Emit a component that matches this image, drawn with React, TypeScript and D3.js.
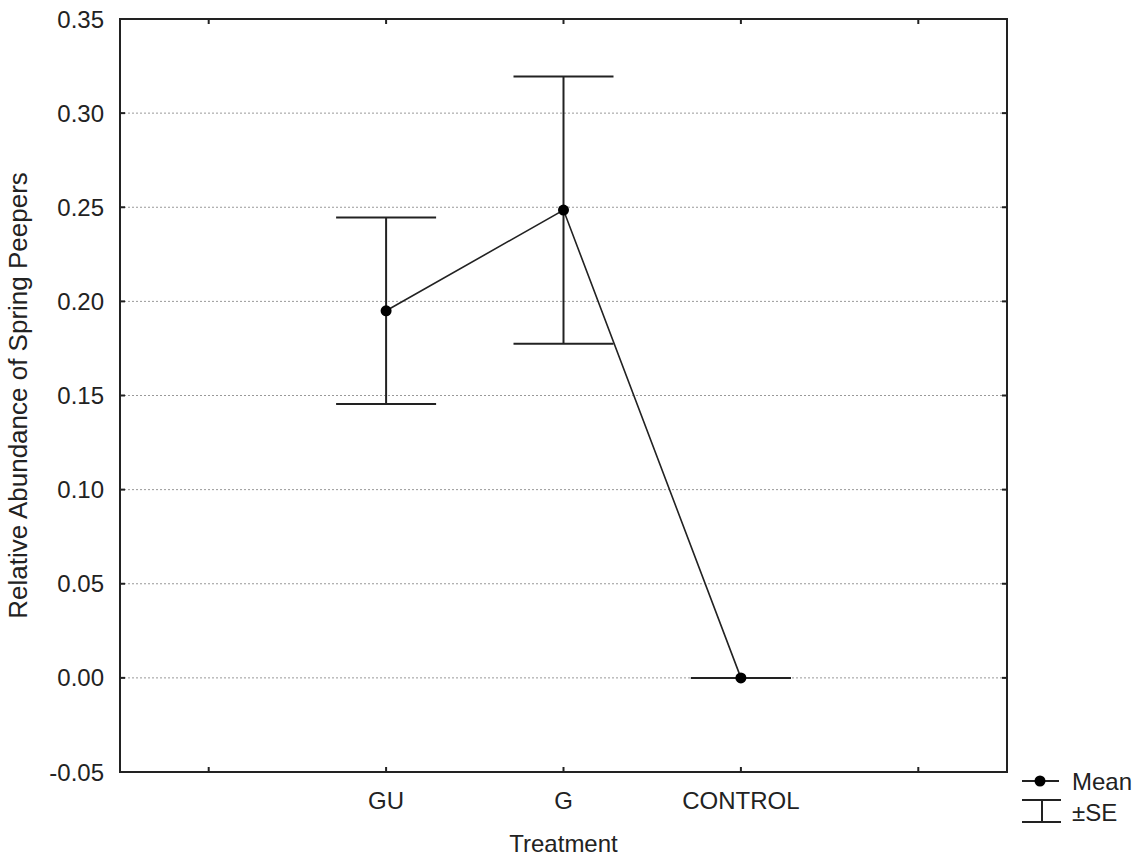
import React from "react";
import * as d3 from "d3";

const categories = ["GU", "G", "CONTROL"];
const categoryPositions = [2, 3, 4];
const means = [0.195, 0.2485, 0.0];
const upperSE = [0.2445, 0.3195, 0.0];
const lowerSE = [0.1455, 0.1775, 0.0];
const yTicks = [-0.05, 0.0, 0.05, 0.1, 0.15, 0.2, 0.25, 0.3, 0.35];
const xTicks = [1, 2, 3, 4, 5];

const W = 1137;
const H = 855;
const left = 120;
const right = 1007;
const top = 19;
const bottom = 772;
const font = "Arial, 'Liberation Sans', sans-serif";
const ink = "#222";
const fs = 24;

// hyphen-minus formatting for tick labels
const fmt = (v: number) => d3.format(".2f")(v).replace("\u2212", "-");

export default function App() {
  const x = d3.scaleLinear().domain([0.5, 5.5]).range([left, right]);
  const y = d3.scaleLinear().domain([-0.05, 0.35]).range([bottom, top]);
  const line = d3
    .line<number>()
    .x((_, i) => x(categoryPositions[i]))
    .y((d) => y(d));
  const capHalf = 50;
  const tickLen = 5;

  return (
    <svg
      width={W}
      height={H}
      style={{ position: "absolute", left: 0, top: 0, background: "#fff" }}
    >
      {/* dotted grid */}
      {yTicks
        .filter((t) => t > -0.05 + 1e-9 && t < 0.35 - 1e-9)
        .map((t) => (
          <line
            key={"g" + t}
            x1={left}
            x2={right}
            y1={y(t)}
            y2={y(t)}
            stroke="#999"
            strokeWidth={1}
            strokeDasharray="2,2"
          />
        ))}

      {/* frame */}
      <rect
        x={left}
        y={top}
        width={right - left}
        height={bottom - top}
        fill="none"
        stroke={ink}
        strokeWidth={2}
      />

      {/* inward ticks */}
      {yTicks.map((t) => (
        <g key={"yt" + t}>
          <line x1={left} x2={left + tickLen} y1={y(t)} y2={y(t)} stroke={ink} strokeWidth={2} />
          <line x1={right - tickLen} x2={right} y1={y(t)} y2={y(t)} stroke={ink} strokeWidth={2} />
          <text
            x={104}
            y={y(t)}
            textAnchor="end"
            dominantBaseline="central"
            fontFamily={font}
            fontSize={fs}
            fill={ink}
          >
            {fmt(t)}
          </text>
        </g>
      ))}
      {xTicks.map((t) => (
        <g key={"xt" + t}>
          <line x1={x(t)} x2={x(t)} y1={bottom} y2={bottom - tickLen} stroke={ink} strokeWidth={2} />
          <line x1={x(t)} x2={x(t)} y1={top} y2={top + tickLen} stroke={ink} strokeWidth={2} />
        </g>
      ))}
      {categories.map((c, i) => (
        <text
          key={c}
          x={x(categoryPositions[i])}
          y={800}
          textAnchor="middle"
          dominantBaseline="central"
          fontFamily={font}
          fontSize={fs}
          fill={ink}
        >
          {c}
        </text>
      ))}

      {/* axis titles */}
      <text
        x={(left + right) / 2}
        y={843}
        textAnchor="middle"
        dominantBaseline="central"
        fontFamily={font}
        fontSize={fs}
        fill={ink}
      >
        Treatment
      </text>
      <text
        transform={`translate(18, ${(top + bottom) / 2}) rotate(-90)`}
        textAnchor="middle"
        dominantBaseline="central"
        fontFamily={font}
        fontSize={26}
        fill={ink}
      >
        Relative Abundance of Spring Peepers
      </text>

      {/* error bars */}
      {categories.map((c, i) => {
        const cx = x(categoryPositions[i]);
        return (
          <g key={"e" + c} stroke={ink} strokeWidth={2}>
            <line x1={cx} x2={cx} y1={y(upperSE[i])} y2={y(lowerSE[i])} />
            <line x1={cx - capHalf} x2={cx + capHalf} y1={y(upperSE[i])} y2={y(upperSE[i])} />
            <line x1={cx - capHalf} x2={cx + capHalf} y1={y(lowerSE[i])} y2={y(lowerSE[i])} />
          </g>
        );
      })}

      {/* mean line and points */}
      <path d={line(means) ?? ""} fill="none" stroke={ink} strokeWidth={1.6} />
      {means.map((m, i) => (
        <circle key={"p" + i} cx={x(categoryPositions[i])} cy={y(m)} r={5.5} fill="#000" />
      ))}

      {/* legend */}
      <g>
        <line x1={1022} x2={1059} y1={781} y2={781} stroke={ink} strokeWidth={2} />
        <circle cx={1040} cy={781} r={5.5} fill="#000" />
        <text x={1072} y={781} dominantBaseline="central" fontFamily={font} fontSize={fs} fill={ink}>
          Mean
        </text>
        <g stroke={ink} strokeWidth={2}>
          <line x1={1022} x2={1061} y1={800} y2={800} />
          <line x1={1042} x2={1042} y1={800} y2={822} />
          <line x1={1022} x2={1061} y1={822} y2={822} />
        </g>
        <text x={1072} y={812} dominantBaseline="central" fontFamily={font} fontSize={fs} fill={ink}>
          ±SE
        </text>
      </g>
    </svg>
  );
}
